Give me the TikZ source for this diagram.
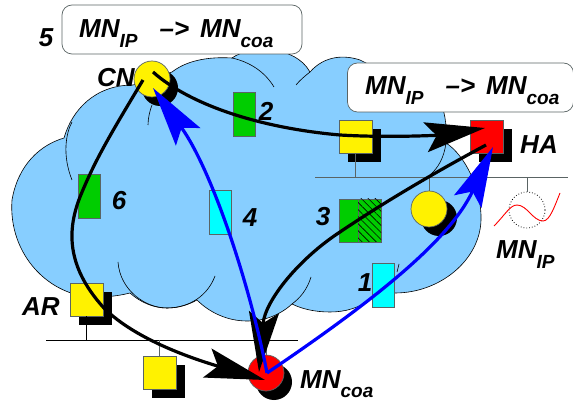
\documentclass[tikz,border=0pt]{standalone}
\usepackage{fontspec}
\setmainfont{Liberation Sans}
\usetikzlibrary{arrows.meta,patterns.meta}
\definecolor{CloudBlue}{RGB}{135,206,255}
\definecolor{NodeGreen}{RGB}{0,205,0}
\definecolor{NodeCyan}{RGB}{0,255,255}
\definecolor{WireGray}{RGB}{90,100,100}
\newcommand{\lowtext}[1]{\raisebox{-0.38em}{\fontsize{19}{19}\selectfont #1}}
\tikzset{
    label text/.style={font=\fontsize{26}{26}\selectfont\bfseries\itshape, inner sep=0pt},
    box/.style={draw=WireGray, line width=0.7pt, inner sep=0pt},
    square/.style={box, minimum width=33pt, minimum height=33pt},
    square shadow/.style={fill=black, inner sep=0pt, minimum width=33pt, minimum height=33pt},
    packet/.style={box, minimum width=22pt, minimum height=44pt},
    host/.style={circle, draw=WireGray, line width=0.7pt, fill=yellow, inner sep=0pt, minimum size=36pt},
    host shadow/.style={circle, fill=black, inner sep=0pt, minimum size=36pt},
    note/.style={draw=WireGray, line width=0.7pt, fill=white, rounded corners=10pt, minimum height=49pt, inner sep=0pt},
    black route/.style={black, line width=3.2pt, -{Stealth[length=60pt,width=30pt,inset=11pt]}},
    blue route/.style={blue, line width=3.2pt, -{Stealth[length=60pt,width=30pt,inset=11pt]}},
    wire/.style={WireGray, line width=0.9pt},
}
\begin{document}
\begin{tikzpicture}[x=1pt,y=-1pt]
    \useasboundingbox (0,0) rectangle (573,403);
    %% Cloud
    \draw[fill=CloudBlue, line width=0.6pt] (12,200)
    .. controls (18,165) and (40,145) .. (64,138)
    .. controls (72,110) and (95,85) .. (133,85)
    to (172,72)
    .. controls (190,58) and (215,57) .. (232,58)
    .. controls (250,45) and (295,45) .. (310,72)
    .. controls (325,55) and (345,55) .. (360,60)
    to (440,100)
    .. controls (446,115) and (447,130) .. (446,143)
    .. controls (465,155) and (482,190) .. (481,220)
    .. controls (480,260) and (440,293) .. (395,293)
    to (372,298)
    .. controls (360,308) and (345,312) .. (330,312)
    .. controls (315,312) and (302,309) .. (292,304)
    .. controls (280,315) and (265,321) .. (247,321)
    .. controls (228,321) and (210,313) .. (197,300)
    .. controls (188,305) and (178,308) .. (167,308)
    .. controls (153,308) and (140,302) .. (130,293)
    .. controls (118,296) and (108,297) .. (95,297)
    .. controls (50,297) and (8,255) .. (12,200)
    -- cycle;
    %% Cloud inner arcs
    \draw[line width=0.6pt]
    (72,180) .. controls (62,155) and (66,133) .. (72,122)
    (148,125) .. controls (148,118) and (150,110) .. (152,105)
    (232,58) .. controls (250,62) and (265,72) .. (274,87)
    (296,85) .. controls (300,80) and (305,76) .. (310,72)
    (446,143) .. controls (444,158) and (438,168) .. (430,175)
    (118,262) .. controls (120,290) and (145,308) .. (167,308)
    (167,308) .. controls (190,308) and (208,295) .. (215,276)
    (311,277) .. controls (307,290) and (300,298) .. (292,304)
    (397,272) to (399,264)
    ;
    %% Nets
    \coordinate (netTopLeft) at (315,177);
    \coordinate (netTopRight) at (568,177);
    \coordinate (netBotLeft) at (46,340);
    \coordinate (netBotRight) at (298,340);
    \draw[wire] (netTopLeft) to (netTopRight);
    \draw[black, line width=0.8pt] (netBotLeft) to (netBotRight);
    %% Hosts
    \node[square shadow] (routerShadow) at (364,145.5) {};
    \node[square, fill=yellow] (router) at (355.5,136.5) {};
    \node[square shadow] (haShadow) at (495,145.5) {};
    \node[square, fill=red] (HA) at (486.5,136.5) {};
    \node[square shadow] (arShadow) at (95,309) {};
    \node[square, fill=yellow] (AR) at (86.5,299.5) {};
    \node[square shadow] (binShadow) at (168,381) {};
    \node[square, fill=yellow] (bin) at (159.5,372.5) {};
    \node[host shadow] (cnShadow) at (160,88) {};
    \node[host] (CN) at (152,79) {};
    \node[host shadow] (hostShadow) at (439,218) {};
    \node[host] (host) at (429,209) {};
    \node[host shadow] (mnShadow) at (274,382) {};
    \node[host, fill=red] (MN) at (266,373) {};
    \node[circle, draw=black, dotted, line width=0.8pt, inner sep=0pt, minimum size=36pt] (ghost) at (527,210) {};
    %% Stubs
    \draw[wire] (router.south) to (router.south |- netTopLeft);
    \draw[wire] (host.north) to (host.north |- netTopLeft);
    \draw[wire] (ghost.north) to (ghost.north |- netTopLeft);
    \draw[black, line width=0.7pt] (AR.south) to (AR.south |- netBotLeft);
    \draw[wire] (bin.north) to (bin.north |- netBotLeft);
    \draw[wire] (MN.north) to (MN.north |- netBotLeft);
    \draw[red, line width=0.9pt] (494,226) .. controls (505,215) and (510,205) .. (517,205)
    .. controls (527,205) and (533,221) .. (543,221)
    .. controls (550,221) and (555,205) .. (560,193);
    %% Packets
    \node[packet, fill=NodeGreen] (packetTwo) at (244,114) {};
    \node[packet, fill=NodeGreen] (packetSix) at (89,196) {};
    \node[packet, fill=NodeCyan] (packetFour) at (220,212) {};
    \node[packet, fill=NodeCyan] (packetOne) at (383,285.5) {};
    \node[box, fill=NodeGreen, minimum width=19pt, minimum height=43pt] (packetThreeA) at (348.5,220.5) {};
    \node[box, fill=NodeGreen, postaction={pattern={Lines[angle=-45,distance=5pt,line width=0.6pt]}}, minimum width=23pt, minimum height=43pt] (packetThreeB) at (369.5,220.5) {};
    %% Notes
    \node[note, minimum width=240pt] (noteCN) at (182,29.5) {};
    \node[note, minimum width=226pt] (noteHA) at (460.5,87.5) {};
    \node[label text, anchor=base west] (noteCNtext) at (79,38) {MN\lowtext{IP}\hspace{22pt}–>\hspace{11pt}MN\lowtext{coa}};
    \node[label text, anchor=base west] (noteHAtext) at (365,95) {MN\lowtext{IP}\hspace{22pt}–>\hspace{11pt}MN\lowtext{coa}};
    %% Routes
    \coordinate (cnOutA) at (153,72);
    \coordinate (cnOutB) at (143,80);
    \coordinate (cnIn) at (153,88);
    \coordinate (haInA) at (485,128);
    \coordinate (haOut) at (486,145);
    \coordinate (haInB) at (493,147);
    \coordinate (mnInA) at (265,380);
    \coordinate (mnInB) at (259,372);
    \coordinate (mnOut) at (267,373);
    \draw[black route] (cnOutA) .. controls (190,105) and (260,128) .. (340,135) .. controls (390,138) and (440,135) .. (haInA);
    \draw[black route] (cnOutB) .. controls (110,135) and (95,160) .. (80,197) .. controls (65,235) and (70,270) .. (103,307) .. controls (130,335) and (180,355) .. (mnInA);
    \draw[black route] (haOut) .. controls (430,175) and (380,205) .. (340,232) .. controls (300,258) and (265,300) .. (mnInB);
    \draw[blue route] (mnOut) .. controls (250,285) and (212,170) .. (cnIn);
    \draw[blue route] (mnOut) .. controls (375,300) and (450,240) .. (haInB);
    %% Labels
    \node[label text] (labelFive) at (46,38) {5};
    \node[label text] (labelTwo) at (266,111) {2};
    \node[label text] (labelSix) at (119,201) {6};
    \node[label text] (labelFour) at (250,218) {4};
    \node[label text] (labelThree) at (323,217) {3};
    \node[label text] (labelOne) at (365,283) {1};
    \node[label text] (labelAR) at (41,307) {AR};
    \node[label text] (labelCN) at (116,78) {CN};
    \node[label text] (labelHA) at (539,145) {HA};
    \node[label text, anchor=base west] (labelMNcoa) at (300,388) {MN\lowtext{coa}};
    \node[label text, anchor=base west] (labelMNip) at (496,259) {MN\lowtext{IP}};
\end{tikzpicture}
\end{document}
